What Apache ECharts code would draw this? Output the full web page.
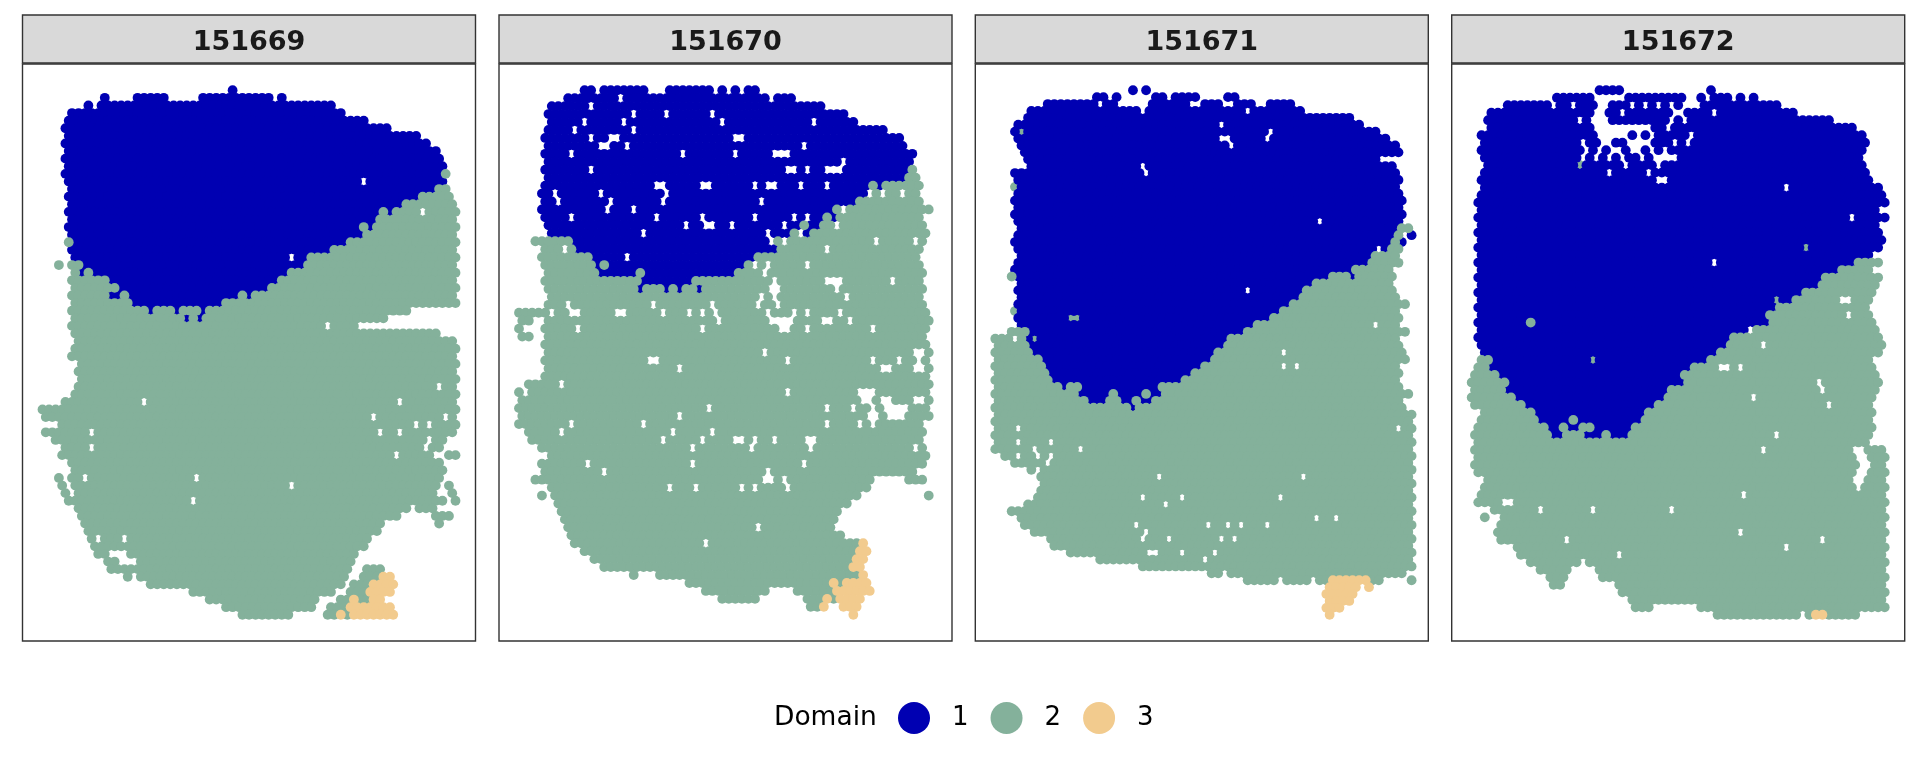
<!DOCTYPE html>
<html><head><meta charset="utf-8">
<style>html,body{margin:0;padding:0;background:#fff}#c{width:1920px;height:768px}</style>
<script src="https://cdn.jsdelivr.net/npm/echarts@6/dist/echarts.min.js"></script>
</head><body><div id="c"></div>
<script>
// Spot table per sample: one string per array row.
// "a-b:d" = spots at columns a, a+2 ... b belong to domain d; "!c" = no spot at column c.
// Domain written as 0 = a domain 2 spot that lies underneath its domain 1 neighbours in the picture.
const sampleNames = ["151669","151670","151671","151672"];
const domainNames = ["1","2","3"];
const domainColors = ["#0000b2","#84b19b","#f2cb8e"];
const rows151669 = [
"58:1","19:1 29-37:1 49-69:1 73:1","14:1 18-88:1","9-91:1","8-98:1","7-105:1","8-114:1","7-117:1","8-120:1","7-121:1",
"8-122:1","7-121:1 123:2","8-122:1 !98","9-119:1 121-123:2","8-114:1 116-124:2","9-109:1 111-125:2","8-102:1 104:2 106:1 108-126:2 !116","9-101:1 103-125:2","8-96:1 98:2 100:1 102-126:2","9-97:1 99-125:2",
"8:2 10-92:1 94-126:2","9-87:1 89-125:2","10-80:1 82-126:2 !76","5:2 9-11:2 13-79:1 81-125:2","10:2 12:1 14:2 16-74:1 76-126:2","9-19:2 21-71:1 73-125:2","10-22:2 24-68:1 70-126:2","9-19:2 21-23:1 25:2 27-59:1 61:2 63:1 65-125:2","10-26:2 28-54:1 56-126:2","9-31:2 33:1 35-39:2 41:1 43-47:2 49:1 51-111:2",
"10-42:2 44:1 46:2 48:1 50-104:2","9-95:2 !87","10-120:2","11-125:2","10-126:2","9-125:2","12-126:2","11-125:2","12-126:2","11-125:2 !121",
"10-126:2","7-125:2 !31 !109","0-126:2","1-125:2 !101 !123","6-126:2 !114 !118","1-125:2 !15 !103 !109","4-122:2 !118","7-121:2 !15 !117","6-118:2 124-126:2 !108","9-121:2",
"10-122:2","5:2 9-11:2 15-121:2 !47","6:2 10-120:2 124:2 !76","7:2 11-119:2 125:2","8:2 10-122:2 126:2 !46","11-111:2 115-119:2","12-108:2 120-124:2","13-103:2 121:2","14-102:2","15-99:2 !17 !25",
"16-98:2","17-19:2 27-95:2","20-22:2 30-94:2","21-93:2 99-103:2","26:2 30-92:2 98-102:2 104-106:3","33-91:2 95-99:2 101-107:3","46-88:2 94-98:2 100-106:3","51-83:2 91-93:2 95:3 97-99:2 101-103:3","56-82:2 88-92:2 94-106:3","61-75:2 87-89:2 91:3 93:2 95-107:3"
];
const rows151670 = [
"20-22:1 26-38:1 46-58:1 62:1 66:1 70-72:1","15-75:1 79-83:1 !31","10-92:1 !22","9-99:1 !35 !45 !59","10-102:1 !20 !32 !62 !90","9-111:1 !17 !35","8-116:1 !22 !28 !30 !66 !68","9-117:1 !25 !27 !33 !87","8-120:1 !16 !50 !66 !78 !80 !82","9-119:1 !99",
"8-118:1 120:2 !22 !82 !84 !88 !94 !96 !98","9-117:1 119-121:2","8-106:1 108:2 110:1 112-122:2 !42 !44 !56 !58 !72 !76 !78 !86 !94","7-105:1 109:2 113-115:2 119-121:2 !11 !25 !45","8-102:1 104-122:2 !12 !28 !44 !74","7-95:1 97-125:2 !27 !35 !99","8-92:1 94:2 96:1 98-122:2 !16 !42 !56 !72 !84 !88","9-85:1 87:2 89-91:1 93-123:2 !51 !57 !59 !65 !81 !97","10-74:1 78-82:1 84:2 88:1 90-124:2 !38 !76 !86","5-15:2 17-75:1 79:2 83-123:2 !109 !121 !77 !81",
"8-16:2 18-78:1 80-122:2 !14 !94","7-21:2 23-71:1 73-121:2 !33","8-22:2 24:1 26:2 28-68:1 70-122:2 !72 !76 !88","9-23:2 25:1 27-35:1 37:2 39-65:1 67-123:2 !75","8-36:2 38-52:1 54-122:2 !78 !94 !96 !98 !114","9-35:2 37:1 39-43:2 45:1 47:2 49:1 51-53:2 55:1 57-123:2 !77 !79 !97","10-122:2 !74 !78 !100","9-123:2 !15 !41 !59 !73 !79","0-124:2 !10 !16 !18 !30 !32 !44 !52 !56 !60 !76 !84 !88 !98","1-125:2 !5 !7 !61 !77 !79 !81 !83 !93 !95 !101",
"0-124:2 !6 !18 !56 !80 !82 !88 !108 !2 !4","1-3:2 9-123:2","8-124:2","9-125:2 !75 !121 !123","8-124:2 !40 !42 !82 !108 !116 !122","9-125:2 !49 !111 !113 !121 !123","8-124:2","3-125:2 !13","0:2 4-124:2 !82 !104 !106 !108","1-125:2 !107 !111 !113 !121 !123 !105",
"0-124:2 !58 !94 !102 !108 !112 !114 !116 !118","1-125:2 !49 !107 !109 !113 !115 !117","0-122:2 !16 !38 !94 !104 !108","3-123:2 !13 !47 !59","4-122:2 !44 !56 !66 !68 !72 !78 !88 !90","7-123:2 !53 !71 !89 !121","10-124:2","7-123:2 !21 !53 !87","8-120:2 !26 !76","5-107:2 119-123:2 !75 !77 !81",
"10-106:2 !46 !54 !68 !72 !82","7:2 11-103:2 125:2","12-100:2","13-97:2","14-96:2","15-95:2 !73","16-98:2","17-103:2 105:3 !57","20-102:2 104-106:3","23-101:2 103-105:3",
"26-100:2 102-104:3","35:2 43-103:2 105:3","52-94:2 96:3 98:2 100-106:3","57-75:2 85-95:2 97-107:3","62-72:2 88-92:2 94:3 96:2 98-104:3","89-91:2 93:3 99-103:3","102:3"
];
const rows151671 = [
"42:1 46:1","31-33:1 37:1 49-51:1 55-61:1 71-73:1","16-30:1 34-36:1 48-58:1 64-68:1 74-76:1 78:1 84-90:1","11-93:1 !45 !77","10-108:1","7-111:1 !69","6:1 8:0 10-116:1 !84","7-119:1 !69 !71 !83","8-122:1 !72","9-123:1",
"10-116:1","11-121:1 !45","6-122:1 !46","7-123:1","6:0 8-122:1","7-123:1","6-124:1","7-123:1","6-124:1","7-123:1 !99",
"8-122:1 124-126:2","7-121:1 123:2 127:1","6-120:1 122:2 124:1","7-115:1 119:1 121-123:2","8-114:1 116-122:2","7-113:1 115-123:2","6-108:1 110-120:2","5:2 7-101:1 103-107:2 109:1 111-121:2","8-96:1 98-120:2","7-93:1 95-121:2 !77",
"8-92:1 94-122:2","7-89:1 91-125:2","6:0 8-86:1 88-122:2","7-21:1 23-25:0 27-83:1 85-123:2","8-78:1 80-122:2 !116","5-9:2 11-75:1 77-125:2","0-8:2 10:1 12:0 14-70:1 72-122:2 !6","1-9:2 11-69:1 71-123:2","0-10:2 12-66:1 68-124:2 !88","1-13:2 15-65:1 67-125:2",
"0-14:2 16-62:1 64-122:2 !88 !92","1-15:2 17-59:1 61-123:2","0-16:2 18-56:1 58-122:2","1-19:2 21:1 23-25:2 27-49:1 51-123:2","0-24:2 26-34:1 36:2 38-44:1 46:2 48-50:1 52-126:2","1-27:2 29-33:1 35-37:2 39-41:1 43:2 45-47:1 49-123:2","0-40:2 42:1 44-124:2","1-127:2","0-126:2","1-127:2 !7 !123",
"0-126:2","1-127:2 !7 !17","0-126:2 !12 !26","3-127:2 !7 !13 !17","6-126:2 !16","11:2 15-127:2","14-126:2 !50 !94","15-127:2","14-126:2","13-127:2 !45 !57 !87",
"10-126:2 !52","5-127:2","8-126:2 !98 !104","9-127:2 !43 !65 !71 !75 !83","12-126:2 !46","17-127:2 !45 !53 !69 !73","18-126:2","23-127:2 !47 !49 !57 !67","32-126:2 !64","45-127:2",
"66-68:2 72-124:2","77-85:2 89-95:2 99-101:2 103-113:3 115-117:2 127:2","102-110:3 114:3","101-109:3","102-108:3","101-105:3","102:3"
];
const rows151672 = [
"39-45:1 73:1","26-36:1 48-64:1 70:1 74-78:1 82:1 86:1","11-23:1 27-29:1 33-37:1 43-47:1 51:1 55:1 59:1 63:1 71-93:1","6-36:1 42-44:1 48-56:1 58-60:1 66-72:1 76-98:1","5-31:1 35:1 43-45:1 47-53:1 55-59:1 63:1 67-109:1","6-36:1 56-58:1 62-116:1","3-37:1 49:1 53:1 57-65:1 69-119:1","4-32:1 36-38:1 44-46:1 56-60:1 64:1 68-120:1","3-33:1 37:1 41:1 47:1 53:1 57:1 61-119:1","4-32:1 36:1 40:1 44:1 48-50:1 54:1 64-118:1",
"5-31:1 33:0 35-45:1 49-55:1 59-119:1","4-120:1 !42 !54","3-121:1 !57 !59","4-124:1 !96","3-125:1","2-126:1","3-123:1","2-126:1 !116","3-123:1","2-124:1",
"3-125:1","2-124:1 102:0","3-121:1","2-116:1 118-124:2 !74","3-111:1 113-121:2","2-106:1 108-124:2","3-105:1 107-123:2","2-100:1 102-122:2","3-91:1 93:0 95-97:1 99-121:2 !113 !115","2-92:1 94-120:2",
"3-89:1 91-121:2 !115","2-90:1 18:2 92-122:2","3-83:1 87-123:2","2-78:1 80-124:2","3-77:1 79-125:2 !89","4-74:1 76-124:2","3:2 5:2 7-69:1 37:0 71:1 73-121:2","2-4:2 6-66:1 68-122:2 !76 !78 !82","1-7:2 9-63:1 65-123:2","0-10:2 12-64:1 66-124:2 !106",
"1-9:2 11-59:1 61-123:2 !107","0-12:2 14-58:1 60-122:2 !86","1-15:2 17-55:1 57-121:2 !109","4-18:2 20-52:1 54-122:2","3-19:2 21-51:1 31:2 53-121:2","2-22:2 24-26:1 28:2 30-32:1 34-36:2 38-48:1 50-122:2","1-23:2 25-27:1 29-33:2 35-39:1 41:2 43-47:1 49-121:2 !93","2-120:2","1-115:2 121-125:2 !89","2-116:2 122-126:2",
"1-117:2 123-125:2","2-116:2 122-126:2","5-115:2 121-125:2","4-116:2 120-126:2","3-125:2 !83","2-126:2 !10 !12","7-125:2 !21 !37 !61","4:2 10-126:2","9-125:2","8-126:2 !82",
"9-125:2 !29 !107","14-126:2 !96","15-125:2 !45","18-32:2 36-126:2","21-29:2 39-125:2","24-28:2 40-126:2","25-27:2 45-125:2","46-126:2","49-125:2","50-54:2 70-126:2",
"75-99:2 103:2 105-107:3 109-117:2"
];
const sampleRows = [rows151669, rows151670, rows151671, rows151672];

function expand(rows){
  const out = [[],[],[],[]];
  rows.forEach((line,row)=>{
    const cell = new Map();
    line.split(" ").forEach(t=>{
      if(t[0]==="!"){cell.delete(+t.slice(1));return;}
      const [range,d]=t.split(":");
      const [a,b]=range.split("-").map(Number);
      for(let c=a;c<=(b===undefined?a:b);c+=2) cell.set(c,+d);
    });
    cell.forEach((d,c)=>out[d].push([c,row]));
  });
  return out;
}

const panelLefts=[22.5,499,975.3,1451.7], panelWidth=453;
const grid=[],xAxis=[],yAxis=[],series=[],title=[];
const spot=(name,axis,data,color,z)=>({name,type:"scatter",xAxisIndex:axis,yAxisIndex:axis,data,
  symbol:"circle",symbolSize:9.8,itemStyle:{color,opacity:1},silent:true,animation:false,z,large:false,progressive:0});
sampleNames.forEach((name,i)=>{
  const n=sampleRows[i].length-1, pad=n*0.05;
  grid.push({left:panelLefts[i],width:panelWidth,top:15,height:48,show:true,backgroundColor:"#d9d9d9",borderColor:"#333333",borderWidth:1.4});
  xAxis.push({gridIndex:2*i,show:false,type:"value",min:0,max:1});
  yAxis.push({gridIndex:2*i,show:false,type:"value",min:0,max:1});
  grid.push({left:panelLefts[i],width:panelWidth,top:64,height:577,show:true,backgroundColor:"#fff",borderColor:"#333333",borderWidth:1.4});
  xAxis.push({gridIndex:2*i+1,show:false,type:"value",min:-6.1,max:132.1});
  yAxis.push({gridIndex:2*i+1,show:false,type:"value",inverse:true,min:-pad,max:n+pad});
  title.push({text:name,left:panelLefts[i]+panelWidth/2-5,top:38,textAlign:"center",textVerticalAlign:"middle",
    textStyle:{fontFamily:"DejaVu Sans",fontWeight:"bold",fontSize:27,color:"#1a1a1a"}});
  const groups=expand(sampleRows[i]);
  series.push(spot("2",2*i+1,groups[0],domainColors[1],2));
  domainNames.forEach((d,k)=>series.push(spot(d,2*i+1,groups[k+1],domainColors[k],3+k)));
});
title.push({text:"Domain",left:769,top:713,textVerticalAlign:"middle",
  textStyle:{fontFamily:"DejaVu Sans",fontWeight:"normal",fontSize:26.5,color:"#000"}});
const chart=echarts.init(document.getElementById("c"),null,{renderer:"canvas"});
chart.setOption({animation:false,backgroundColor:"#fff",title,grid,xAxis,yAxis,series,
  legend:{data:domainNames,left:893,top:697,orient:"horizontal",icon:"circle",itemWidth:32,itemHeight:32,itemGap:22,selectedMode:false,
    itemStyle:{opacity:1},
    textStyle:{fontFamily:"DejaVu Sans",fontSize:26,color:"#000",padding:[0,0,0,17]}}
});
</script></body></html>
